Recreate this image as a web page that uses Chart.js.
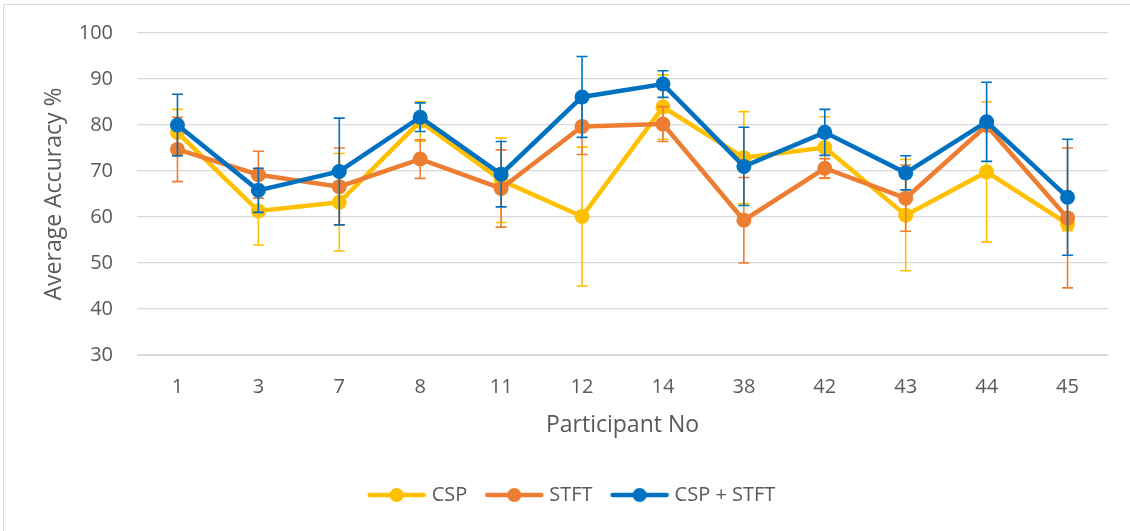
<!DOCTYPE html>
<html>
<head>
<meta charset="utf-8">
<script src="https://cdn.jsdelivr.net/npm/chart.js@4.4.1/dist/chart.umd.min.js"></script>
<style>
  html, body { margin: 0; padding: 0; background: #fff; }
  #wrap { position: relative; width: 1130px; height: 531px; overflow: hidden; }
  #frame { position: absolute; left: 3px; top: 4px; width: 1140px; height: 540px; border: 1px solid #d9d9d9; pointer-events: none; }
  canvas { position: absolute; left: 0; top: 0; }
</style>
</head>
<body>
<div id="wrap">
  <canvas id="chart" width="1130" height="531"></canvas>
  <div id="frame"></div>
</div>
<script>
const participants = ['1', '3', '7', '8', '11', '12', '14', '38', '42', '43', '44', '45'];

const cspValues = [78.4, 61.3, 63.2, 80.8, 68.0, 60.1, 83.9, 72.9, 75.1, 60.4, 69.8, 58.5];
const cspErrors = [5.0, 7.4, 10.6, 4.3, 9.2, 15.1, 7.0, 10.0, 6.7, 12.1, 15.2, 1.5];

const stftValues = [74.7, 69.2, 66.6, 72.6, 66.2, 79.7, 80.2, 59.3, 70.6, 64.1, 79.9, 59.8];
const stftErrors = [7.0, 5.1, 8.4, 4.2, 8.4, 6.1, 3.8, 9.3, 2.1, 7.2, 1.0, 15.2];

const bothValues = [80.0, 65.8, 69.9, 81.7, 69.3, 86.1, 88.9, 71.0, 78.4, 69.6, 80.7, 64.3];
const bothErrors = [6.7, 4.8, 11.6, 3.1, 7.1, 8.8, 2.9, 8.5, 5.0, 3.7, 8.6, 12.6];

const yTicks = [30, 40, 50, 60, 70, 80, 90, 100];

const YELLOW = '#FFC000';
const ORANGE = '#ED7D31';
const BLUE = '#0070C0';
const TEXT = '#595959';
const FONT = "'Open Sans', sans-serif";

// legend symbol: line with a dot, like the office style
function legendMarker(color) {
  const c = document.createElement('canvas');
  c.width = 60;
  c.height = 18;
  const g = c.getContext('2d');
  g.strokeStyle = color;
  g.lineWidth = 4.5;
  g.lineCap = 'round';
  g.beginPath();
  g.moveTo(3, 9);
  g.lineTo(57, 9);
  g.stroke();
  g.fillStyle = color;
  g.beginPath();
  g.arc(30, 9, 7, 0, Math.PI * 2);
  g.fill();
  return c;
}

// error bars drawn just under each series
const errorBars = {
  id: 'errorBars',
  beforeDatasetDraw(chart, args) {
    const ds = chart.data.datasets[args.index];
    if (!ds.errors) return;
    const yScale = chart.scales.y;
    const ctx = chart.ctx;
    ctx.save();
    ctx.strokeStyle = ds.borderColor;
    ctx.lineWidth = 1.6;
    args.meta.data.forEach((pt, i) => {
      const v = ds.data[i];
      const e = ds.errors[i];
      const yTop = yScale.getPixelForValue(v + e);
      const yBot = yScale.getPixelForValue(v - e);
      const x = pt.x;
      ctx.beginPath();
      ctx.moveTo(x, yTop);
      ctx.lineTo(x, yBot);
      ctx.moveTo(x - 5.5, yTop);
      ctx.lineTo(x + 5.5, yTop);
      ctx.moveTo(x - 5.5, yBot);
      ctx.lineTo(x + 5.5, yBot);
      ctx.stroke();
    });
    ctx.restore();
  }
};

function series(label, values, errors, color, order) {
  return {
    label: label,
    data: values,
    errors: errors,
    yAxisID: 'y',
    borderColor: color,
    backgroundColor: color,
    pointBackgroundColor: color,
    pointBorderWidth: 0,
    pointRadius: 7.5,
    pointHoverRadius: 7.5,
    borderWidth: 4.5,
    tension: 0,
    order: order,
    marker: legendMarker(color)
  };
}

new Chart(document.getElementById('chart'), {
  type: 'line',
  data: {
    labels: participants,
    datasets: [
      series('CSP', cspValues, cspErrors, YELLOW, 3),
      series('STFT', stftValues, stftErrors, ORANGE, 2),
      series('CSP + STFT', bothValues, bothErrors, BLUE, 1)
    ]
  },
  options: {
    responsive: false,
    animation: false,
    layout: {
      padding: { top: 33, right: 0, bottom: 16, left: 17 }
    },
    scales: {
      x: {
        offset: true,
        grid: { display: false, drawTicks: false, offset: true },
        border: { display: true, color: '#d9d9d9', width: 1 },
        ticks: { color: TEXT, font: { family: FONT, size: 20 }, padding: 20 },
        title: {
          display: true,
          text: 'Participant No',
          color: TEXT,
          font: { family: FONT, size: 23 },
          padding: { top: 0, bottom: 24 }
        },
        afterFit(scale) {
          scale.height = 108;
          scale.paddingLeft = 0;
          scale.paddingRight = 0;
        }
      },
      y: {
        min: 30,
        max: 100,
        grid: { color: '#d9d9d9', lineWidth: 1.3, drawTicks: false },
        border: { display: false },
        afterBuildTicks(scale) { scale.ticks = yTicks.map(v => ({ value: v })); },
        ticks: { color: TEXT, font: { family: FONT, size: 20 }, padding: 24 },
        title: {
          display: true,
          text: 'Average Accuracy %',
          color: TEXT,
          font: { family: FONT, size: 23 },
          padding: { top: 24, bottom: 0 }
        },
        afterFit(scale) {
          scale.width = 120;
          scale.paddingTop = 0;
          scale.paddingBottom = 0;
        }
      },
      // empty strip on the right so the plot ends where the original does
      gap: {
        type: 'linear',
        position: 'right',
        display: true,
        grid: { display: false, drawTicks: false },
        border: { display: false },
        ticks: { display: false },
        afterFit(scale) {
          scale.width = 22;
          scale.paddingTop = 0;
          scale.paddingBottom = 0;
        }
      }
    },
    plugins: {
      legend: {
        position: 'bottom',
        labels: {
          color: TEXT,
          font: { family: FONT, size: 20 },
          usePointStyle: true,
          pointStyleWidth: 50,
          padding: 22,
          sort: (a, b) => a.datasetIndex - b.datasetIndex,
          generateLabels(chart) {
            return chart.data.datasets.map((ds, i) => ({
              text: ds.label,
              datasetIndex: i,
              fontColor: TEXT,
              fillStyle: ds.borderColor,
              strokeStyle: ds.borderColor,
              lineWidth: 0,
              pointStyle: ds.marker,
              hidden: false
            }));
          }
        }
      },
      tooltip: { enabled: false }
    }
  },
  plugins: [errorBars]
});
</script>
</body>
</html>
